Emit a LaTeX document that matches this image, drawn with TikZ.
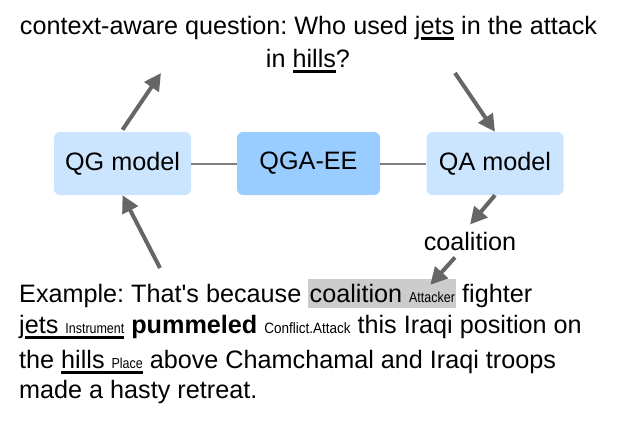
\documentclass[tikz,border=0pt]{standalone}
\usepackage{fontspec}
\usepackage{graphicx}
\setmainfont{Liberation Sans}
\usetikzlibrary{arrows.meta}
\definecolor{boxlight}{HTML}{CCE5FF}
\definecolor{boxdark}{HTML}{99CCFF}
\definecolor{arrgray}{HTML}{666666}
\definecolor{lingray}{HTML}{808080}
\definecolor{hlgray}{HTML}{CCCCCC}
\newcommand\myul[1]{\setbox0\hbox{#1}\leavevmode\rlap{\rule[-5.5pt]{\wd0}{2.6pt}}\box0\relax}
\newcommand\lbl[1]{\scalebox{0.86}[1]{\fontsize{14.5}{16}\selectfont #1}}
\newcommand\lblb[1]{\scalebox{0.9}[1]{\fontsize{15}{16}\selectfont #1}}
\frenchspacing
\begin{document}
\begin{tikzpicture}[x=1pt,y=-1pt,
  every node/.style={inner sep=0pt, font=\fontsize{25.2}{30}\selectfont},
  model/.style={rounded corners=6pt, minimum width=137pt, minimum height=63pt, fill=boxlight},
  core/.style={model, fill=boxdark, minimum width=143pt},
  link/.style={draw=lingray, line width=2pt},
  arr/.style={draw=arrgray, line width=4pt, -{Triangle[length=17pt,width=17pt]}},
  txt/.style={anchor=base west}]
\useasboundingbox (0,0) rectangle (618,429);

% title
\node[anchor=base] (q1) at (308.5,34) {context-aware question: Who used j\myul{ets} in the attack};
\node[anchor=base] (q2) at (308,67) {in \myul{hills}?};

% boxes
\node[model] (qg) at (122.5,163.5) {QG model};
\node[core] (qga) at (308.5,163.5) {QGA-EE};
\node[model] (qa) at (495,163.5) {QA model};
\draw[link] (qg) -- (qga);
\draw[link] (qga) -- (qa);

% answer label
\node[anchor=base] (coalab) at (470,250) {coalition};

% example text
\node[txt] (ex1) at (19,302) {Example: That\textquotesingle s because};
\node[anchor=base west, fill=hlgray, inner xsep=1.5pt, inner ysep=2pt, text height=21pt, text depth=4pt] (coal) at (308,302) {coalition \lbl{Attacker}};
\node[txt] (ex1b) at (462,302) {fighter};
\node[txt] (ex2) at (19,333) {j\myul{ets \lbl{Instrument}} \textbf{pummeled} \lblb{Conflict.Attack} this Iraqi position on};
\node[txt] (ex3) at (19,368) {the \myul{hills \lbl{Place}} above Chamchamal and Iraqi troops};
\node[txt] (ex4) at (19,398) {made a hasty retreat.};

% arrows
\coordinate (qin) at (161,73);
\coordinate (qout) at (455,73);
\coordinate (exs) at (160,268);
\draw[arr] ([yshift=2pt]qg.north) -- (qin);
\draw[arr] (qout) -- (qa.north);
\draw[arr] (qa.south) -- ([yshift=7pt]coalab.north);
\draw[arr] ([xshift=-15pt,yshift=-7pt]coalab.south) -- ([xshift=48pt,yshift=-6pt]coal.north);
\draw[arr] (exs) -- (qg.south);
\end{tikzpicture}
\end{document}
